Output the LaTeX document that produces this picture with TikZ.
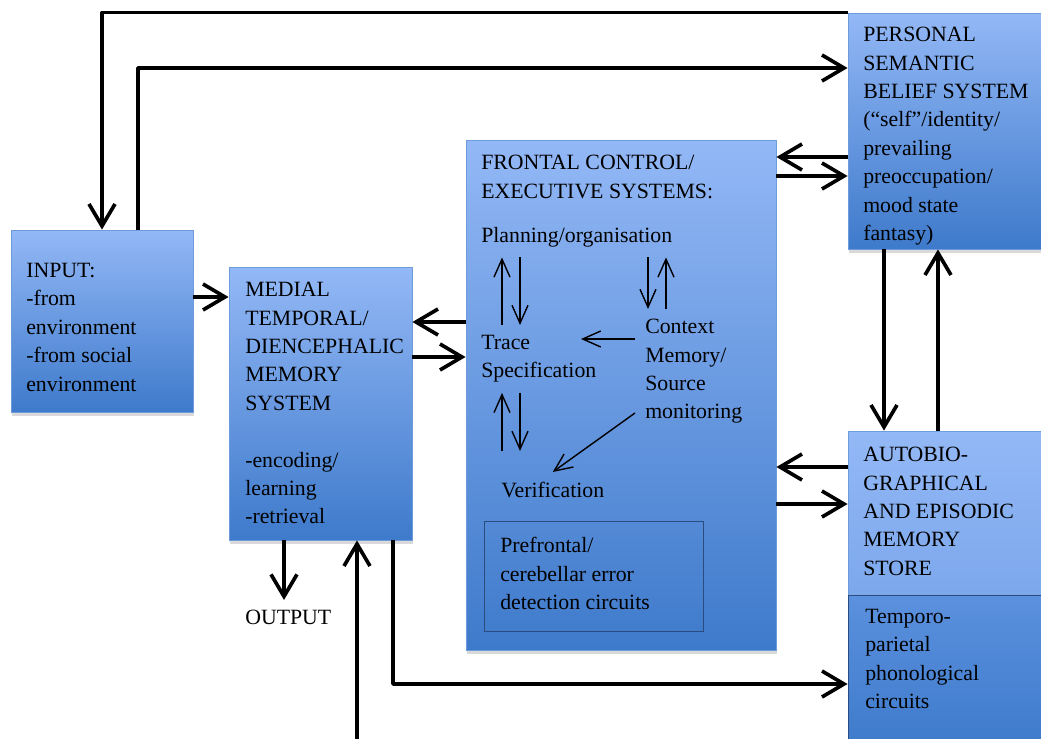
\documentclass[tikz,border=0pt]{standalone}
\usepackage{fontspec}
\setmainfont{Liberation Serif}
\usetikzlibrary{arrows.meta,positioning,fit,shadows}
\definecolor{boxtop}{HTML}{93B8F6}
\definecolor{boxbottom}{HTML}{3E7ACB}
\definecolor{boxedge}{HTML}{6E9BDB}
\definecolor{darkedge}{HTML}{2B4C7E}
\definecolor{storemid}{HTML}{7CA8EC}
\definecolor{phonotop}{HTML}{5B91DE}

\begin{document}
\begin{tikzpicture}[x=0.025cm,y=-0.025cm,
  every node/.style={font=\fontsize{15.5}{20.2}\selectfont},
  module/.style={draw=boxedge,line width=0.6pt,top color=boxtop,bottom color=boxbottom,inner sep=0pt,
    drop shadow={shadow xshift=0.5pt,shadow yshift=-2.5pt,opacity=0.3}},
  caption/.style={align=left,inner sep=0pt,anchor=north west},
  item/.style={align=left,inner sep=0.25cm,anchor=north west},
  arrow/.style={-{Straight Barb[length=5.5mm,width=6.5mm]},line width=2.6pt,line join=round},
  thinarrow/.style={-{Straight Barb[length=4.5mm,width=4mm]},line width=1pt}
]
\useasboundingbox (0,0) rectangle (1041,738);

% boxes
\node[module,fit={(11,230) (193,412)}] (input) {};
\node[module,fit={(229,267) (412,540)}] (medial) {};
\node[module,fit={(466,140) (776,650)}] (frontal) {};
\node[module,fit={(848,13) (1050,249)}] (personal) {};
\node[module,bottom color=storemid,fit={(848,431) (1050,595)}] (autobio) {};
\node[module,draw=darkedge,top color=phonotop,fit={(848,595) (1050,748)}] (temporo) {};
\node[draw=darkedge,line width=0.6pt,inner sep=0pt,fit={(484,521) (703,631)}] (errorbox) {};

% texts
\node[caption] (inputtext) at (26,263) {INPUT:\\-from\\environment\\-from social\\environment};
\node[caption] (medialtext) at (245,282) {MEDIAL\\TEMPORAL/\\DIENCEPHALIC\\MEMORY\\SYSTEM\\[20.2pt]-encoding/\\learning\\-retrieval};
\node[caption] (frontaltext) at (481,155) {FRONTAL CONTROL/\\EXECUTIVE SYSTEMS:};
\node[caption] (personaltext) at (863,27) {PERSONAL\\SEMANTIC\\BELIEF SYSTEM\\(“self”/identity/\\prevailing\\preoccupation/\\mood state\\fantasy)};
\node[caption] (autobiotext) at (863,447) {AUTOBIO-\\GRAPHICAL\\AND EPISODIC\\MEMORY\\STORE};
\node[caption] (temporotext) at (865,609) {Temporo-\\parietal\\phonological\\circuits};
\node[caption] (errortext) at (500,537) {Prefrontal/\\cerebellar error\\detection circuits};
\node[item] (planning) at (471,217) {Planning/organisation};
\node[item] (trace) at (471,325) {Trace\\Specification};
\node[item] (context) at (635,309) {Context\\Memory/\\Source\\monitoring};
\node[item] (verification) at (491,472) {Verification};
\node[item] (output) at (235,600) {OUTPUT};

% inner loops
\draw[thinarrow] (trace.north -| 502,0) -- (planning.south -| 502,0);
\draw[thinarrow] (planning.south -| 520,0) -- (trace.north -| 520,0);
\draw[thinarrow] (planning.south -| 648,0) -- (context.north -| 648,0);
\draw[thinarrow] (context.north -| 666,0) -- (planning.south -| 666,0);
\draw[thinarrow] (context.west |- 0,339) -- ++(-54,0);
\draw[thinarrow] (context.west |- 0,413) -- (verification.north);
\draw[thinarrow,shorten <=15pt] (verification.north -| 502,0) -- (trace.south -| 502,0);
\draw[thinarrow,shorten >=15pt] (trace.south -| 520,0) -- (verification.north -| 520,0);

% connectors
\draw[arrow] (personal.north west) -| (input.north -| 102,0);
\draw[arrow] (input.north -| 138,0) |- (personal.west |- 0,68);
\draw[arrow] (input.east |- 0,297) -- (medial.west |- 0,297);
\draw[arrow] (frontal.west |- 0,322) -- (medial.east |- 0,322);
\draw[arrow] (medial.east |- 0,357) -- (frontal.west |- 0,357);
\draw[arrow] (personal.west |- 0,157) -- (frontal.east |- 0,157);
\draw[arrow] (frontal.east |- 0,176) -- (personal.west |- 0,176);
\draw[arrow] (personal.south -| 884,0) -- (autobio.north -| 884,0);
\draw[arrow] (autobio.north -| 938,0) -- (personal.south -| 938,0);
\draw[arrow] (autobio.west |- 0,467) -- (frontal.east |- 0,467);
\draw[arrow] (frontal.east |- 0,504) -- (autobio.west |- 0,504);
\draw[arrow] (medial.south -| 284,0) -- (output.north -| 284,0);
\draw[arrow] (medial.south -| 393,0) |- (temporo.west |- 0,684);
\coordinate (feedback) at (357,745);
\draw[arrow] (feedback) -- (medial.south -| feedback);
\end{tikzpicture}
\end{document}
